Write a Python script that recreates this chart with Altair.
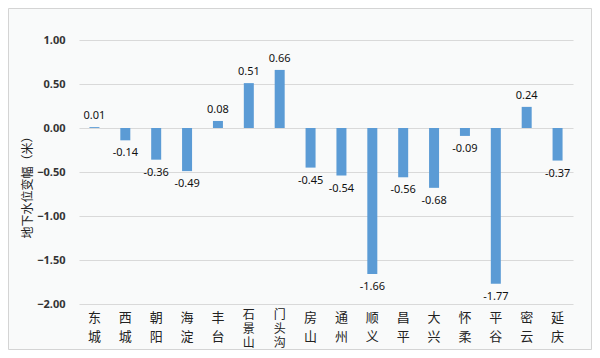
import altair as alt
import pandas as pd

districts = ["东城", "西城", "朝阳", "海淀", "丰台", "石景山", "门头沟", "房山",
             "通州", "顺义", "昌平", "大兴", "怀柔", "平谷", "密云", "延庆"]
values = [0.01, -0.14, -0.36, -0.49, 0.08, 0.51, 0.66, -0.45,
          -0.54, -1.66, -0.56, -0.68, -0.09, -1.77, 0.24, -0.37]
y_ticks = [-2.0, -1.5, -1.0, -0.5, 0.0, 0.5, 1.0]

df = pd.DataFrame({"district": districts, "value": values})
df["label"] = df["value"].map(lambda v: f"{v:.2f}")
df["vlabel"] = df["district"].map(lambda s: "\n".join(list(s)))
df["nchar"] = df["district"].str.len()

W, H = 494, 264

x = alt.X("district:N", sort=districts, title=None,
          scale=alt.Scale(paddingInner=0.68, paddingOuter=0.34),
          axis=None)
y = alt.Y("value:Q", title="地下水位变幅（米）",
          scale=alt.Scale(domain=[-2, 1], nice=False, zero=False),
          axis=alt.Axis(values=y_ticks, format=".2f", domain=False, ticks=False,
                        grid=True, gridColor="#d9d9d9", gridWidth=1,
                        labelFont="Noto Sans", labelFontWeight="bold",
                        labelFontSize=11, labelColor="#333333", labelPadding=14,
                        titleFont="Noto Sans CJK SC", titleFontSize=12,
                        titleFontWeight="normal", titleColor="#222222",
                        titleX=-52, titleY=144, titleAngle=270,
                        titleAlign="center", titleBaseline="middle"))

frame = alt.Chart(alt.Data(values=[{"a": 1}])).mark_rect(
    fill="transparent", stroke="#d4d4d4", strokeWidth=1
).encode(x=alt.value(-70.5), x2=alt.value(W + 18.5),
         y=alt.value(-31.5), y2=alt.value(H + 45.5))

base = alt.Chart(df)

bars = base.mark_bar(color="#5b9bd5", size=10).encode(
    x=x, y=y, y2=alt.datum(0)
)

pos_lab = base.transform_filter("datum.value >= 0").mark_text(
    font="Noto Sans", fontSize=11, color="#111111", baseline="middle", dy=-11
).encode(x=x, y=y, text="label:N")

neg_lab = base.transform_filter("datum.value < 0").mark_text(
    font="Noto Sans", fontSize=11, color="#111111", baseline="middle", dy=13
).encode(x=x, y=y, text="label:N")

cat2 = base.transform_filter("datum.nchar == 2").mark_text(
    font="Noto Sans CJK SC", fontSize=13, color="#222222", baseline="middle",
    lineBreak="\n", lineHeight=19
).encode(x=x, y=alt.value(H + 14), text="vlabel:N")

cat3 = base.transform_filter("datum.nchar == 3").mark_text(
    font="Noto Sans CJK SC", fontSize=12, color="#222222", baseline="middle",
    lineBreak="\n", lineHeight=14
).encode(x=x, y=alt.value(H + 10.5), text="vlabel:N")

chart = alt.layer(frame, bars, pos_lab, neg_lab, cat2, cat3).properties(
    width=W, height=H,
    autosize=alt.AutoSizeParams(type="none"),
    padding={"left": 71, "top": 32, "right": 19, "bottom": 46},
    background="#f9fafa"
).configure_view(stroke=None)

chart.save("out.html", embed_options={"renderer": "svg", "actions": False})
